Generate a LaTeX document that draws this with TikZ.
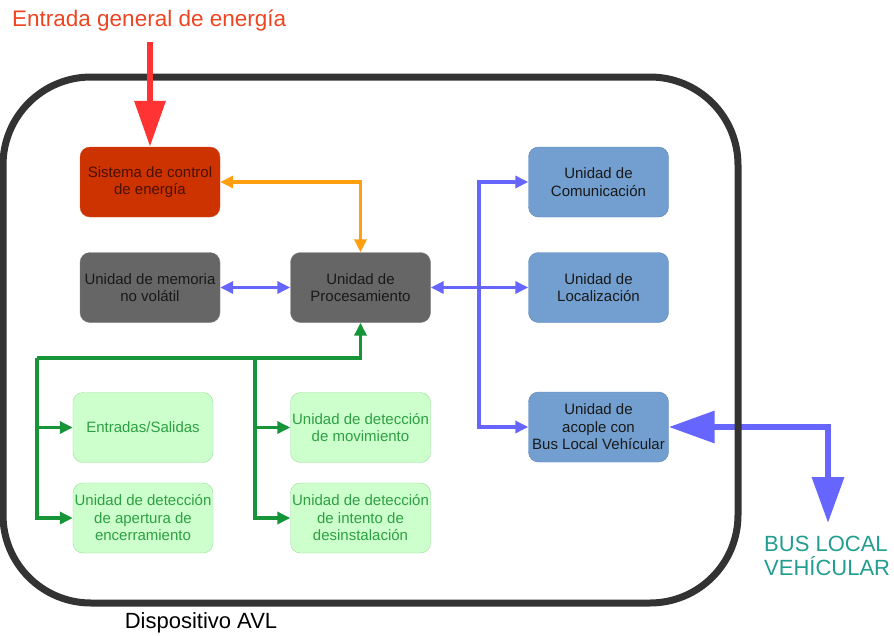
\documentclass[tikz,border=0pt]{standalone}
\usepackage{fontspec}
\setmainfont{Liberation Sans}
\usetikzlibrary{arrows.meta}
\definecolor{redbox}{HTML}{CC3300}
\definecolor{redtxt}{HTML}{4A1000}
\definecolor{graybox}{HTML}{666666}
\definecolor{bluebox}{HTML}{729FCF}
\definecolor{blueedge}{HTML}{5A86B8}
\definecolor{greenbox}{HTML}{CCFFCC}
\definecolor{greenedge}{HTML}{99DD99}
\definecolor{greentxt}{HTML}{2EA043}
\definecolor{greenline}{HTML}{159538}
\definecolor{blueline}{HTML}{6666FF}
\definecolor{orangeline}{HTML}{FF9E0F}
\definecolor{redarrow}{HTML}{FF3333}
\definecolor{titlered}{HTML}{EE4422}
\definecolor{teal}{HTML}{229E90}
\definecolor{frame}{HTML}{333333}
\tikzset{
  unit/.style={rounded corners=10pt, minimum width=140pt, minimum height=70pt,
    align=center, inner sep=0pt, font=\fontsize{15}{17.5}\selectfont},
  redu/.style={unit, fill=redbox, draw=redbox!85!white, text=redtxt},
  grayu/.style={unit, fill=graybox, draw=graybox!85!white, text=black!90},
  blueu/.style={unit, fill=bluebox, draw=blueedge, text=black!90},
  greenu/.style={unit, fill=greenbox, draw=greenedge, text=greentxt},
  thinarrow/.style={line width=3.4pt, {Triangle[length=13pt,width=12pt]}-{Triangle[length=13pt,width=12pt]}},
  onearrow/.style={line width=3.4pt, -{Triangle[length=13pt,width=12pt]}},
}
\begin{document}
\begin{tikzpicture}[x=1pt,y=-1pt]
\useasboundingbox (0,0) rectangle (894,635);
% big bus arrow (below frame)
\node[blueu] (aco) at (598.5,427) {Unidad de\\acople con\\Bus Local Vehícular};
\coordinate (busend) at (828,523);
\draw[blueline, line width=6.5pt, {Triangle[length=46pt,width=31pt]}-{Triangle[length=46pt,width=31pt]}] (aco.east) -- (828,427) -- (busend);
% frame
\draw[frame, line width=7pt, rounded corners=88pt] (3,77) rectangle (738,603);
% nodes
\node[redu] (sce) at (150,182) {Sistema de control\\de energía};
\node[grayu] (mem) at (150,287.5) {Unidad de memoria\\no volátil};
\node[grayu] (proc) at (360.5,287.5) {Unidad de\\Procesamiento};
\node[blueu] (com) at (598.5,182) {Unidad de\\Comunicación};
\node[blueu] (loc) at (598.5,287.5) {Unidad de\\Localización};
\node[greenu] (es) at (143,427.5) {Entradas/Salidas};
\node[greenu] (ape) at (143,518) {Unidad de detección\\de apertura de\\encerramiento};
\node[greenu] (mov) at (360.5,427.5) {Unidad de detección\\de movimiento};
\node[greenu] (int) at (360.5,518) {Unidad de detección\\de intento de\\desinstalación};
% texts
\node[text=titlered, font=\fontsize{22.5}{25}\selectfont, anchor=west, inner sep=0pt] (title) at (12,21) {Entrada general de energía};
\coordinate (redstart) at (150,42);
\draw[redarrow, line width=6.5pt, -{Triangle[length=46pt,width=30pt]}] (redstart) -- (sce.north);
\node[font=\fontsize{22}{24}\selectfont, inner sep=0pt] (avl) at (201,623) {Dispositivo AVL};
\node[text=teal, font=\fontsize{22}{24}\selectfont, align=left, anchor=north west, inner sep=0pt] (bus) at (764,536) {BUS LOCAL\\VEHÍCULAR};
% orange
\draw[orangeline, thinarrow] (sce.east) -- (360.5,182) -- (proc.north);
% blue
\draw[blueline, thinarrow] (mem.east) -- (proc.west);
\draw[blueline, thinarrow] (proc.east) -- (loc.west);
\coordinate (bj) at (479,287.5);
\draw[blueline, onearrow] (bj) -- (479,182) -- (com.west);
\draw[blueline, onearrow] (bj) -- (479,427) -- (aco.west);
% green
\coordinate (gl) at (37,358);
\coordinate (gm) at (255,358);
\draw[greenline, onearrow] (gl) -- (360.5,358) -- (proc.south);
\draw[greenline, onearrow] (gl) -- (37,518) -- (ape.west);
\draw[greenline, onearrow] (37,427.5) -- (es.west);
\draw[greenline, onearrow] (gm) -- (255,518) -- (int.west);
\draw[greenline, onearrow] (255,427.5) -- (mov.west);
\end{tikzpicture}
\end{document}
